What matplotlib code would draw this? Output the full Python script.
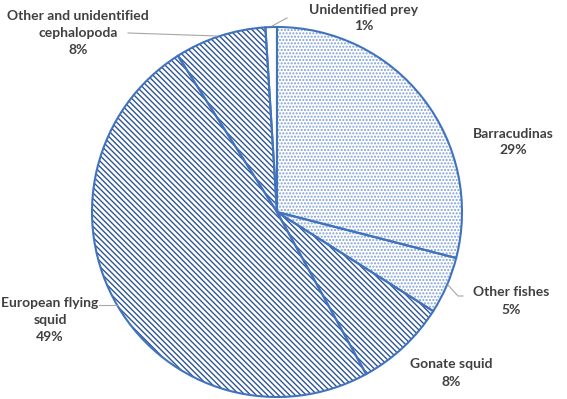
import matplotlib
matplotlib.use("Agg")
import matplotlib.pyplot as plt

categories = ["Barracudinas", "Other fishes", "Gonate squid", "European flying squid",
              "Other and unidentified\ncephalopoda", "Unidentified prey"]
values = [29, 5, 8, 49, 8, 1]
pct_labels = ["29%", "5%", "8%", "49%", "8%", "1%"]
hatches = [".....", ".....", "\\" * 6, "\\" * 6, "\\" * 6, None]
hatch_colors = ["#7F9FD8", "#7F9FD8", "#2F5597", "#2F5597", "#2F5597", "white"]

plt.rcParams['hatch.linewidth'] = 1.0
W, H = 567, 399
fig = plt.figure(figsize=(W / 100, H / 100), dpi=100)
ax = fig.add_axes([0, 0, 1, 1])

cx, cy, r = 277, H - 212, 185

# hatched fill layer
wedges, _ = ax.pie(values, startangle=90, counterclock=False, center=(cx, cy), radius=r,
                   colors=["white"] * len(values), frame=True)
for w, h, hc in zip(wedges, hatches, hatch_colors):
    w.set_edgecolor(hc)
    w.set_linewidth(0)
    if h:
        w.set_hatch(h)
# outline layer
wedges2, _ = ax.pie(values, startangle=90, counterclock=False, center=(cx, cy), radius=r,
                    colors=["none"] * len(values), frame=True,
                    wedgeprops=dict(edgecolor="#4173BD", linewidth=1.5, fill=False))
ax.set_xlim(0, W)
ax.set_ylim(0, H)
ax.set_aspect('equal')
ax.axis('off')

tc = "#404040"
fs = 10
font = dict(fontsize=fs, color=tc, fontweight='bold', family='Lato', ha='center', va='center',
            linespacing=1.5)

def Y(y):
    return H - y

ax.text(364, Y(18), "Unidentified prey\n1%", **font)
ax.text(78, Y(33), "Other and unidentified\ncephalopoda\n8%", **font)
ax.text(513, Y(142), "Barracudinas\n29%", **font)
ax.text(511, Y(301), "Other fishes\n5%", **font)
ax.text(451, Y(373), "Gonate squid\n8%", **font)
ax.text(50, Y(320), "European flying\nsquid\n49%", **font)

lc = "#A6A6A6"
ax.plot([272, 287], [Y(26), Y(18)], color=lc, lw=0.8)
ax.plot([128, 217], [Y(33), Y(36)], color=lc, lw=0.8)
ax.plot([448, 458, 463], [Y(285), Y(296), Y(296)], color=lc, lw=0.8)
ax.plot([99, 118], [Y(305), Y(305)], color=lc, lw=0.8)

fig.savefig("out.png", dpi=100)
